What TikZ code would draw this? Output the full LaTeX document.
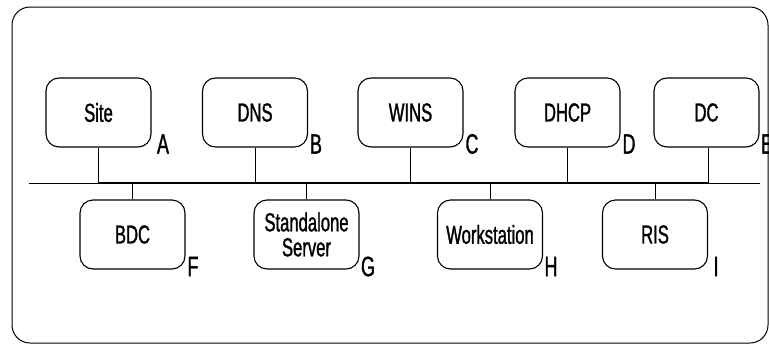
\documentclass[tikz,border=0pt]{standalone}
\usepackage{fontspec}
\setmainfont{Liberation Sans}[FakeStretch=0.64, FakeBold=1.2]
\begin{document}
\begin{tikzpicture}[x=1pt,y=-1pt,
  box/.style={draw, line width=1.1pt, rounded corners=13pt, minimum width=105pt, minimum height=69pt, inner sep=1pt, align=center, font=\fontsize{26}{25}\selectfont},
  tag/.style={inner sep=0pt, font=\fontsize{28}{28}\selectfont},
  drop/.style={line width=0.9pt},
  bus/.style={line width=2.2pt},
  thinbus/.style={line width=1pt}]
\useasboundingbox (0,0) rectangle (769,346);
\draw[line width=1pt, rounded corners=18pt] (12,7) rectangle (768,343);
% top row
\node[box] (site) at (98.5,112.5) {Site};
\node[box] (dns) at (255,112.5) {DNS};
\node[box] (wins) at (410.5,112.5) {WINS};
\node[box] (dhcp) at (567.5,112.5) {DHCP};
\node[box] (dc) at (706.5,112.5) {DC};
% bottom row
\node[box] (bdc) at (132.5,234.5) {BDC};
\node[box] (sas) at (306.5,234.5) {Standalone\\Server};
\node[box] (ws) at (490,234.5) {Workstation};
\node[box] (ris) at (655,234.5) {RIS};
% tags
\node[tag] (ta) at (163,144) {A};
\node[tag] (tb) at (316,144) {B};
\node[tag] (tc) at (472,144) {C};
\node[tag] (td) at (629,144) {D};
\node[tag] (te) at (767,144) {E};
\node[tag] (tf) at (193,266.5) {F};
\node[tag] (tg) at (368,266.5) {G};
\node[tag] (th) at (551,266.5) {H};
\node[tag] (ti) at (716,266.5) {I};
% bus
\coordinate (busL) at (29,183);
\coordinate (busR) at (760,183);
\coordinate (b1) at (98,183);
\coordinate (b2) at (708,183);
\draw[thinbus] (busL) -- (b1);
\draw[thinbus] (b2) -- (busR);
\draw[bus] (b1) -- (b2);
% drops
\draw[drop] (site.south -| b1) -- (b1);
\draw[drop] (dns.south) -- (dns.south |- busL);
\draw[drop] (wins.south) -- (wins.south |- busL);
\draw[drop] (dhcp.south) -- (dhcp.south |- busL);
\draw[drop] (dc.south -| b2) -- (b2);
\draw[drop] (bdc.north) -- (bdc.north |- busL);
\draw[drop] (sas.north) -- (sas.north |- busL);
\draw[drop] (ws.north) -- (ws.north |- busL);
\draw[drop] (ris.north) -- (ris.north |- busL);
\end{tikzpicture}
\end{document}
